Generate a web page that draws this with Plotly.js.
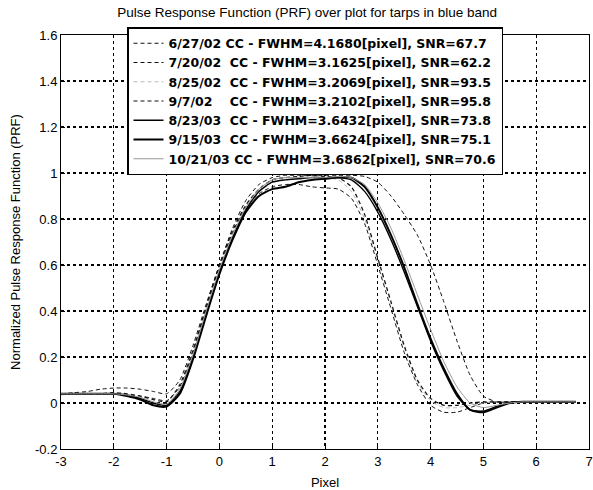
<!DOCTYPE html>
<html>
<head>
<meta charset="utf-8">
<script src="https://cdn.plot.ly/plotly-3.0.1.min.js"></script>
<style>html,body{margin:0;padding:0;background:#fff;}#chart{width:593px;height:490px;}</style>
</head>
<body>
<div id="chart"></div>
<script>
// Pixel positions (shared by every series)
const pixel = [-3,-2.75,-2.5,-2.25,-2,-1.75,-1.5,-1.25,-1,-0.75,-0.5,-0.25,0,0.25,0.5,0.75,1,1.25,1.5,1.75,2,2.25,2.5,2.75,3,3.25,3.5,3.75,4,4.25,4.5,4.75,5,5.25,5.5,5.75,6,6.25,6.5,6.75];

// Series names
const seriesNames = [
  "6/27/02 CC - FWHM=4.1680[pixel], SNR=67.7",
  "7/20/02\u00a0\u00a0CC - FWHM=3.1625[pixel], SNR=62.2",
  "8/25/02\u00a0\u00a0CC - FWHM=3.2069[pixel], SNR=93.5",
  "9/7/02\u00a0\u00a0\u00a0\u00a0CC - FWHM=3.2102[pixel], SNR=95.8",
  "8/23/03\u00a0\u00a0CC - FWHM=3.6432[pixel], SNR=73.8",
  "9/15/03\u00a0\u00a0CC - FWHM=3.6624[pixel], SNR=75.1",
  "10/21/03 CC - FWHM=3.6862[pixel], SNR=70.6"
];

// Normalized PRF values
const prf_062702 = [0.04,0.045,0.05,0.06,0.065,0.065,0.06,0.05,0.04,0.10,0.25,0.43,0.60,0.76,0.88,0.95,0.98,0.99,0.99,0.99,0.99,0.99,0.99,0.985,0.96,0.90,0.82,0.73,0.60,0.44,0.27,0.12,0.03,0.005,0.0,0.005,0.005,0.005,0.005,0.005];
const prf_072002 = [0.04,0.04,0.04,0.04,0.04,0.035,0.03,0.02,0.01,0.07,0.22,0.41,0.59,0.74,0.85,0.91,0.94,0.95,0.95,0.94,0.935,0.93,0.89,0.78,0.60,0.41,0.22,0.08,-0.01,-0.04,-0.04,-0.02,0.0,0.005,0.005,0.005,0.005,0.005,0.005,0.005];
const prf_082502 = [0.035,0.04,0.04,0.04,0.04,0.03,0.02,0.0,-0.01,0.06,0.20,0.39,0.57,0.72,0.84,0.92,0.97,0.98,0.98,0.985,0.98,0.97,0.92,0.80,0.62,0.43,0.24,0.09,0.01,-0.02,-0.02,-0.01,0.0,0.005,0.005,0.005,0.005,0.005,0.005,0.005];
const prf_090702 = [0.04,0.04,0.04,0.04,0.045,0.04,0.03,0.015,0.005,0.08,0.23,0.42,0.60,0.75,0.86,0.93,0.97,0.98,0.985,0.99,0.985,0.98,0.94,0.82,0.63,0.44,0.25,0.10,0.02,-0.01,-0.01,0.0,0.005,0.005,0.005,0.005,0.005,0.005,0.005,0.005];
const prf_082303 = [0.04,0.04,0.04,0.04,0.04,0.035,0.02,0.0,-0.01,0.05,0.20,0.39,0.57,0.72,0.84,0.92,0.96,0.97,0.975,0.98,0.98,0.98,0.97,0.92,0.83,0.71,0.57,0.42,0.27,0.14,0.03,-0.03,-0.035,-0.015,0.0,0.005,0.005,0.005,0.005,0.005];
const prf_091503 = [0.04,0.04,0.04,0.04,0.04,0.03,0.015,-0.01,-0.015,0.04,0.19,0.38,0.56,0.71,0.83,0.90,0.93,0.94,0.96,0.97,0.975,0.98,0.98,0.94,0.85,0.73,0.59,0.43,0.28,0.15,0.04,-0.03,-0.04,-0.02,0.0,0.005,0.005,0.005,0.005,0.005];
const prf_102103 = [0.04,0.04,0.04,0.04,0.04,0.035,0.025,0.005,-0.005,0.06,0.21,0.40,0.58,0.73,0.85,0.93,0.97,0.98,0.98,0.98,0.98,0.985,0.98,0.95,0.87,0.76,0.62,0.47,0.32,0.18,0.07,0.0,-0.02,-0.01,0.0,0.005,0.005,0.005,0.005,0.005];

// Tick labels
const xTickVals = [-3,-2,-1,0,1,2,3,4,5,6,7];
const xTickText = ["-3","-2","-1","0","1","2","3","4","5","6","7"];
const yTickVals = [-0.2,0,0.2,0.4,0.6,0.8,1,1.2,1.4,1.6];
const yTickText = ["-0.2","0","0.2","0.4","0.6","0.8","1","1.2","1.4","1.6"];

const seriesValues = [prf_062702, prf_072002, prf_082502, prf_090702, prf_082303, prf_091503, prf_102103];
const styles = [
  {color:"#111", width:1, dash:"4px,3px"},
  {color:"#111", width:1, dash:"4px,3px"},
  {color:"#bbbbbb", width:1, dash:"4px,3px"},
  {color:"#111", width:1.2, dash:"4px,3px"},
  {color:"#000", width:1.4, dash:"solid"},
  {color:"#000", width:2, dash:"solid"},
  {color:"#999999", width:1, dash:"solid"}
];

const traces = seriesValues.map((v, i) => ({
  x: pixel, y: v, type: "scatter", mode: "lines", name: seriesNames[i],
  line: Object.assign({shape: "spline", smoothing: 0.6}, styles[i])
}));

const axisFont = {family: "Liberation Sans, Arial, sans-serif", size: 13, color: "#000"};

const layout = {
  width: 593, height: 490,
  margin: {l: 61, r: 4, t: 35, b: 41, pad: 0},
  paper_bgcolor: "#fff", plot_bgcolor: "#fff",
  font: axisFont,
  title: {text: "Pulse Response Function (PRF) over plot for tarps in blue band",
          font: {family: "Liberation Sans, Arial, sans-serif", size: 13.5, color: "#000"},
          x: 0.518, xref: "container", xanchor: "center", y: 0.975, yref: "container", yanchor: "middle"},
  xaxis: {range: [-3, 7], tickvals: xTickVals, ticktext: xTickText,
          showgrid: true, gridcolor: "#000", gridwidth: 1.2, griddash: "dot",
          showline: true, linecolor: "#000", linewidth: 1, mirror: true,
          ticks: "inside", ticklen: 4, tickcolor: "#000", zeroline: false,
          tickfont: axisFont,
          title: {text: "Pixel", font: axisFont, standoff: 10}},
  yaxis: {range: [-0.2, 1.6], tickvals: yTickVals, ticktext: yTickText,
          showgrid: true, gridcolor: "#000", gridwidth: 1.2, griddash: "dot",
          showline: true, linecolor: "#000", linewidth: 1, mirror: true,
          ticks: "inside", ticklen: 4, tickcolor: "#000", zeroline: false,
          tickfont: axisFont,
          title: {text: "Normalized Pulse Response Function (PRF)", font: axisFont, standoff: 11}},
  showlegend: true,
  legend: {x: 0.125, xanchor: "left", y: 1.019, yanchor: "top",
           bgcolor: "#fff", bordercolor: "#000", borderwidth: 1.5,
           font: {family: "DejaVu Sans, sans-serif", size: 12.5, color: "#000", weight: "bold"},
           tracegroupgap: 0, itemwidth: 30}
};

Plotly.newPlot("chart", traces, layout, {displayModeBar: false, staticPlot: true});
</script>
</body>
</html>
